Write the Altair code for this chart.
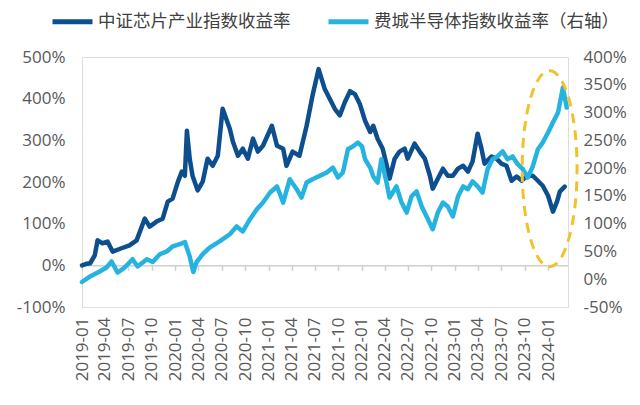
import altair as alt
import pandas as pd

series_names = ["中证芯片产业指数收益率", "费城半导体指数收益率（右轴）"]
series_colors = ["#0d4e8e", "#27b3df"]

chip_dates = [
    "2019-01-01", "2019-01-15", "2019-02-02", "2019-02-20", "2019-03-03", "2019-03-22",
    "2019-04-11", "2019-05-01", "2019-06-05", "2019-07-06", "2019-08-03", "2019-09-04",
    "2019-09-23", "2019-10-20", "2019-11-13", "2019-12-03", "2019-12-22", "2020-01-12",
    "2020-01-27", "2020-02-08", "2020-02-16", "2020-02-27", "2020-03-09", "2020-03-29",
    "2020-04-18", "2020-05-07", "2020-05-27", "2020-06-16", "2020-07-05", "2020-08-02",
    "2020-08-14", "2020-09-03", "2020-09-22", "2020-10-12", "2020-11-01", "2020-11-20",
    "2020-12-10", "2021-01-14", "2021-02-03", "2021-02-27", "2021-03-12", "2021-04-05",
    "2021-05-02", "2021-05-30", "2021-06-22", "2021-07-16", "2021-08-09", "2021-08-29",
    "2021-09-18", "2021-10-07", "2021-10-27", "2021-11-16", "2021-12-05", "2021-12-24",
    "2022-01-14", "2022-02-03", "2022-02-15", "2022-03-04", "2022-03-24", "2022-04-12",
    "2022-04-20", "2022-05-10", "2022-05-29", "2022-06-18", "2022-06-30", "2022-07-27",
    "2022-08-16", "2022-09-05", "2022-09-25", "2022-10-06", "2022-10-26", "2022-11-15",
    "2022-12-04", "2022-12-24", "2023-01-13", "2023-02-02", "2023-02-21", "2023-03-11",
    "2023-03-31", "2023-04-15", "2023-04-27", "2023-05-24", "2023-06-13", "2023-07-02",
    "2023-07-22", "2023-08-11", "2023-08-31", "2023-09-20", "2023-10-09", "2023-11-02",
    "2023-11-22", "2023-12-11", "2024-01-01", "2024-01-20", "2024-02-05", "2024-02-16",
    "2024-03-06",
]
chip_values = [
    0, 3, 5, 24, 60, 53,
    57, 33, 41, 48, 60, 112,
    93, 105, 112, 153, 160, 201,
    225, 215, 323, 256, 215, 180,
    201, 256, 239, 263, 376, 328,
    297, 263, 280, 256, 304, 273,
    287, 335, 287, 280, 239, 273,
    263, 335, 407, 471, 423, 399,
    375, 360, 392, 418, 411, 388,
    347, 320, 335, 304, 280, 232,
    208, 256, 273, 280, 256, 292,
    273, 256, 215, 184, 208, 232,
    215, 215, 232, 239, 225, 249,
    316, 280, 244, 261, 256, 244,
    239, 203, 213, 203, 215, 215,
    203, 191, 167, 129, 153, 177,
    189,
]

sox_dates = [
    "2019-01-01", "2019-02-02", "2019-03-11", "2019-04-07", "2019-04-27", "2019-05-20",
    "2019-06-17", "2019-07-18", "2019-08-07", "2019-09-12", "2019-10-05", "2019-11-02",
    "2019-11-29", "2019-12-22", "2020-01-19", "2020-02-08", "2020-02-27", "2020-03-12",
    "2020-03-25", "2020-04-18", "2020-05-15", "2020-06-23", "2020-08-02", "2020-08-29",
    "2020-09-22", "2020-10-20", "2020-11-16", "2020-12-10", "2021-01-07", "2021-02-03",
    "2021-02-27", "2021-03-25", "2021-04-21", "2021-05-10", "2021-05-30", "2021-06-22",
    "2021-07-20", "2021-08-17", "2021-09-10", "2021-09-30", "2021-10-19", "2021-11-08",
    "2021-11-27", "2021-12-17", "2022-01-02", "2022-01-14", "2022-02-03", "2022-02-15",
    "2022-03-04", "2022-03-19", "2022-04-08", "2022-04-20", "2022-05-17", "2022-06-06",
    "2022-06-26", "2022-07-15", "2022-08-04", "2022-08-24", "2022-09-12", "2022-10-06",
    "2022-10-26", "2022-11-15", "2022-12-04", "2022-12-24", "2023-01-13", "2023-02-02",
    "2023-02-21", "2023-03-11", "2023-03-31", "2023-04-19", "2023-05-09", "2023-05-28",
    "2023-06-17", "2023-07-07", "2023-07-26", "2023-08-15", "2023-09-04", "2023-09-24",
    "2023-10-13", "2023-11-02", "2023-11-22", "2023-12-11", "2024-01-01", "2024-01-20",
    "2024-02-09", "2024-02-28", "2024-03-14",
]
sox_values = [
    -5, 5, 14, 21, 32, 12,
    21, 36, 23, 36, 31, 45,
    50, 59, 63, 67, 41, 13,
    31, 45, 57, 68, 81, 95,
    86, 108, 126, 138, 156, 167,
    138, 180, 162, 147, 174, 180,
    186, 192, 201, 183, 192, 234,
    239, 246, 239, 216, 201, 185,
    174, 216, 174, 147, 167, 138,
    120, 149, 158, 131, 113, 90,
    120, 138, 131, 113, 149, 167,
    162, 176, 167, 156, 198, 216,
    221, 230, 216, 221, 207, 198,
    183, 203, 234, 246, 264, 282,
    300, 345, 309,
]

quarter_labels = [
    (2019, 1), (2019, 4), (2019, 7), (2019, 10), (2020, 1), (2020, 4), (2020, 7),
    (2020, 10), (2021, 1), (2021, 4), (2021, 7), (2021, 10), (2022, 1), (2022, 4),
    (2022, 7), (2022, 10), (2023, 1), (2023, 4), (2023, 7), (2023, 10), (2024, 1),
]
left_ticks = [-100, 0, 100, 200, 300, 400, 500]
right_ticks = [-50, 0, 50, 100, 150, 200, 250, 300, 350, 400]

# highlight ellipse centre (date, left-axis value)
highlight = {"date": "2024-01-07", "v": 232}

chip = pd.DataFrame({"date": pd.to_datetime(chip_dates), "v": chip_values, "s": series_names[0]})
sox = pd.DataFrame({"date": pd.to_datetime(sox_dates), "v": sox_values, "s": series_names[1]})
hl = pd.DataFrame({"date": pd.to_datetime([highlight["date"]]), "v": [highlight["v"]]})

FONT = "Open Sans"
CJK = "Noto Sans CJK SC"
GREY = "#595959"
AXIS_LINE = "#d0d0d0"

W, H = 486, 250
x_start = alt.DateTime(year=2019, month=1, date=1)
x_end = alt.DateTime(year=2024, month=3, date=19)
xscale = alt.Scale(domain=[x_start, x_end])
yl = alt.Scale(domain=[-100, 500], nice=False, zero=False)
yr = alt.Scale(domain=[-50, 400], nice=False, zero=False)

# the date axis line sits at the left axis' 0% level; its labels stay below the plot
zero_offset = -H * (0 - (-100)) / (500 - (-100))

color = alt.Color(
    "s:N",
    scale=alt.Scale(domain=series_names, range=series_colors),
    legend=alt.Legend(
        orient="none", legendX=-20, legendY=-46, direction="horizontal", title=None,
        symbolType="M -2.5 0 L 2.5 0", symbolStrokeWidth=5, symbolSize=256,
        labelFont=CJK, labelFontSize=17.5, labelColor="#404040", labelLimit=400,
        labelOffset=15, columnPadding=27,
    ),
)

xaxis = alt.Axis(
    values=[alt.DateTime(year=y, month=m, date=1) for y, m in quarter_labels],
    format="%Y-%m", labelAngle=-90, grid=False,
    domain=True, domainColor=AXIS_LINE, domainWidth=1.5,
    ticks=True, tickColor=AXIS_LINE, tickWidth=1.5, tickSize=5,
    offset=zero_offset, labelPadding=-zero_offset + 5,
    labelFont=FONT, labelFontSize=17, labelColor=GREY,
    labelOverlap=False, labelBound=False, title=None,
)
yaxis_left = alt.Axis(
    values=left_ticks, labelExpr="datum.value + '%'", grid=False, domain=False,
    domainOpacity=0, ticks=False, labelFont=FONT, labelFontSize=17, labelColor=GREY,
    labelPadding=17, title=None,
)
yaxis_right = alt.Axis(
    orient="right", values=right_ticks, labelExpr="datum.value + '%'", grid=False,
    domain=False, domainOpacity=0, ticks=False, labelFont=FONT, labelFontSize=17,
    labelColor=GREY, labelPadding=15, title=None,
)

X = alt.X("date:T", scale=xscale, axis=xaxis, title=None)

chip_line = alt.Chart(chip).mark_line(strokeWidth=4.5, strokeCap="round", strokeJoin="round").encode(
    x=X, y=alt.Y("v:Q", scale=yl, axis=yaxis_left, title=None), color=color,
)

sox_line = alt.Chart(sox).mark_line(strokeWidth=4.5, strokeCap="round", strokeJoin="round").encode(
    x=X, y=alt.Y("v:Q", scale=yr, axis=yaxis_right, title=None), color=color,
)

ellipse_path = ("M 0 -1 C 0.1546 -1 0.28 -0.5523 0.28 0 C 0.28 0.5523 0.1546 1 0 1 "
                "C -0.1546 1 -0.28 0.5523 -0.28 0 C -0.28 -0.5523 -0.1546 -1 0 -1 Z")
ellipse = alt.Chart(hl).mark_point(
    shape=ellipse_path, size=38416, filled=False, stroke="#f2c12e", strokeWidth=3,
    strokeDash=[10, 7], opacity=1,
).encode(x=X, y=alt.Y("v:Q", scale=yl, axis=None, title=None))

chart = alt.layer(chip_line, sox_line, ellipse).resolve_scale(
    y="independent"
).properties(
    width=W, height=H,
    padding={"left": 8, "top": 3, "right": 5, "bottom": 5},
).configure_view(
    stroke=None, strokeOpacity=0, strokeWidth=0
).configure_axis(
    gridOpacity=0
).configure_axisY(
    domain=False, domainOpacity=0, grid=False, ticks=False
).configure_axisX(
    grid=False
).configure(background="white")

chart.save("out.html", embed_options={"renderer": "svg", "actions": False})
